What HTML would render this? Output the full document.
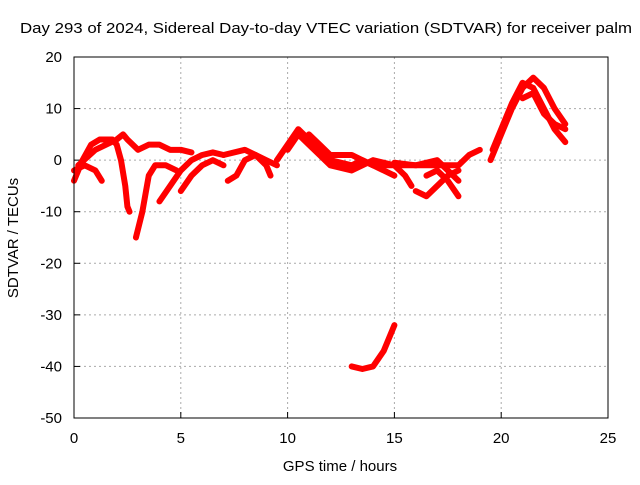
<!DOCTYPE html>
<html><head><meta charset="utf-8"><style>
body{margin:0;background:#fff}
text{font-family:"Liberation Sans",sans-serif;font-size:15px;fill:#000}
</style></head><body>
<svg id="chart" width="640" height="480" xmlns="http://www.w3.org/2000/svg">
<text x="326" y="33" text-anchor="middle" textLength="612" lengthAdjust="spacingAndGlyphs">Day 293 of 2024, Sidereal Day-to-day VTEC variation (SDTVAR) for receiver palm</text>
<g id="grid"></g>
<g id="ticks"></g>
<g id="series"></g>
<rect x="74" y="57" width="534" height="361" fill="none" stroke="#000" stroke-width="1"/>
<text x="340" y="471" text-anchor="middle">GPS time / hours</text>
<text transform="translate(18,238) rotate(-90)" text-anchor="middle">SDTVAR / TECUs</text>
</svg>
<script>
const xTicks=[0,5,10,15,20,25];
const yTicks=[20,10,0,-10,-20,-30,-40,-50];
const trackA=[[0,-4],[0.4,0],[0.8,3],[1.2,4],[1.8,4],[2.0,3],[2.2,0],[2.4,-5],[2.5,-9],[2.6,-10]];
const trackB=[[0,-2],[0.5,-1],[1,-2],[1.3,-4]];
const trackC=[[0.2,-1],[1,2],[2,4],[2.3,5],[2.5,4],[3,2],[3.5,3],[4,3],[4.5,2],[5,2],[5.5,1.5]];
const trackD=[[2.9,-15],[3.2,-10],[3.5,-3],[3.8,-1],[4.3,-1],[4.8,-2]];
const trackE=[[4.0,-8],[4.5,-5],[5,-2],[5.5,0],[6,1],[6.5,1.5],[7,1]];
const trackF=[[5,-6],[5.5,-3],[6,-1],[6.5,0],[7,-1]];
const trackG=[[7.2,-4],[7.6,-3],[8,0],[8.5,1],[9,0],[9.5,-1]];
const trackH=[[7,1],[8,2],[8.5,1],[9,-1],[9.2,-3]];
const trackI=[[9.5,0],[10,3],[10.5,6],[11,4],[11.5,2],[12,0],[13,-1],[13.5,0],[14,-1],[15,-1],[16,-1],[17,0],[17.5,-2],[18,-4]];
const trackJ=[[10,2],[10.5,5],[11,3],[11.5,1],[12,-1],[13,-2],[14,0],[15,-1],[15.5,-3],[15.8,-5]];
const trackK=[[11,5],[11.5,3],[12,1],[13,1],[13.5,0],[14,-1],[14.5,-2],[15,-3]];
const trackL=[[16,-6],[16.5,-7],[17,-5],[17.5,-3],[18,-2]];
const trackM=[[16.5,-3],[17,-2],[17.5,-4],[18,-7]];
const trackN=[[15,-0.5],[16,-1],[17,-1],[18,-1],[18.5,1],[19,2]];
const trackO=[[19.5,0],[20,5],[20.5,10],[21,14],[21.5,16],[22,14],[22.5,10],[23,7]];
const trackP=[[19.6,2],[20,6],[20.5,11],[21,15],[21.5,14],[22,10],[22.5,6],[23,3.5]];
const trackQ=[[21,12],[21.5,13],[22,9],[22.5,7],[23,6]];
const trackR=[[13,-40],[13.5,-40.5],[14,-40],[14.5,-37],[15,-32]];
const tracks=[trackA,trackB,trackC,trackD,trackE,trackF,trackG,trackH,trackI,trackJ,trackK,trackL,trackM,trackN,trackO,trackP,trackQ,trackR];
const NS="http://www.w3.org/2000/svg";
const X=h=>74+h*(534/25);
const Y=v=>57+(20-v)*(361/70);
const grid=document.getElementById('grid'),ticks=document.getElementById('ticks'),ser=document.getElementById('series');
function mk(t,a,p){const e=document.createElementNS(NS,t);for(const k in a)e.setAttribute(k,a[k]);p.appendChild(e);return e;}
xTicks.forEach(t=>{
 if(t>0&&t<25){const l=mk('line',{x1:X(t),x2:X(t),y1:57,y2:418,stroke:'#aaa','stroke-dasharray':'2,3'},grid);
 
 }
 const tk=mk('line',{x1:X(t),x2:X(t),y1:418,y2:412,stroke:'#000'},ticks);
 
 
 const tx=mk('text',{x:X(t),y:443,'text-anchor':'middle'},ticks);tx.textContent=t;
 
 
});
yTicks.forEach(t=>{
 if(t<20&&t>-50){const l=mk('line',{x1:74,x2:608,y1:Y(t),y2:Y(t),stroke:'#aaa','stroke-dasharray':'2,3'},grid);
 
 }
 const tk=mk('line',{x1:74,x2:80,y1:Y(t),y2:Y(t),stroke:'#000'},ticks);
 
 
 const tx=mk('text',{x:62,y:Y(t)+5,'text-anchor':'end'},ticks);tx.textContent=t;
 
 
});
tracks.forEach(tr=>{
 const p=mk('polyline',{points:tr.map(d=>X(d[0])+','+Y(d[1])).join(' '),fill:'none',stroke:'#f00','stroke-width':6,'stroke-linejoin':'round','stroke-linecap':'round'},ser);
 
 
});
</script>
</body></html>
